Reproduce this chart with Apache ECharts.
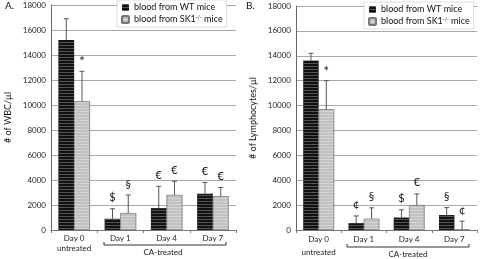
<!DOCTYPE html>
<html>
<head>
<meta charset="utf-8">
<script src="https://cdn.jsdelivr.net/npm/echarts@6/dist/echarts.min.js"></script>
<style>
  html, body { margin: 0; padding: 0; background: #fff; }
  #chart { width: 480px; height: 259px; }
</style>
</head>
<body>
<div id="chart"></div>
<script>
const categories = ['Day 0\nuntreated', 'Day 1', 'Day 4', 'Day 7']
const yTicks = [0, 2000, 4000, 6000, 8000, 10000, 12000, 14000, 16000, 18000]

// panel A - white blood cells
const wbcWT = [15200, 900, 1750, 2900]
const wbcWTErr = [1700, 800, 1750, 900]
const wbcSK = [10300, 1350, 2800, 2700]
const wbcSKErr = [2400, 1450, 1100, 700]
const wbcWTMarks = ['', '$', '€', '€']
const wbcSKMarks = ['*', '§', '€', '€']

// panel B - lymphocytes
const lymWT = [13600, 550, 1000, 1200]
const lymWTErr = [600, 580, 620, 600]
const lymSK = [9700, 900, 2000, 30]
const lymSKErr = [2300, 880, 900, 680]
const lymWTMarks = ['', '¢', '$', '§']
const lymSKMarks = ['*', '§', '€', '¢']

const WT_NAME = 'blood from WT mice'
const SK_NAME = 'blood from SK1-/- mice'
const FONT = 'Lato'
const BAR_W = 0.34

const wtStyle = {
  color: '#111',
  decal: { symbol: 'rect', symbolSize: 1, color: '#555', dashArrayX: [1, 0], dashArrayY: [1, 2], rotation: 0 }
}
const skStyle = {
  color: '#c2c2c2',
  borderColor: '#777',
  borderWidth: 0.5,
  decal: { symbol: 'rect', symbolSize: 1, color: '#d4d4d4', dashArrayX: [1, 0], dashArrayY: [1, 2], rotation: 0 }
}

function errSeries(idx, values, errs, marks, side) {
  return {
    type: 'custom',
    xAxisIndex: idx,
    yAxisIndex: idx,
    clip: false,
    silent: true,
    z: 5,
    data: values.map((v, i) => [i, v, errs[i]]),
    renderItem: function (params, api) {
      const cat = api.value(0)
      const v = api.value(1)
      const e = api.value(2)
      const band = api.size([1, 0])[0]
      const base = api.coord([cat, v])
      const top = api.coord([cat, v + e])
      const x = base[0] + side * band * BAR_W / 2
      const lineStyle = { stroke: '#555', lineWidth: 1 }
      const mark = marks[params.dataIndex]
      return {
        type: 'group',
        children: [
          { type: 'line', shape: { x1: x, y1: base[1], x2: x, y2: top[1] }, style: lineStyle },
          { type: 'line', shape: { x1: x - 2.5, y1: top[1], x2: x + 2.5, y2: top[1] }, style: lineStyle },
          {
            type: 'text',
            style: {
              x: x, y: top[1] - (mark === '*' ? 9 : 11),
              text: mark,
              align: 'center', verticalAlign: 'middle',
              fontFamily: FONT, fontSize: mark === '*' ? 13 : 11, fill: '#111'
            }
          }
        ]
      }
    }
  }
}

function makeLegend(left, top) {
  return {
    data: [WT_NAME, SK_NAME],
    left: left,
    top: top,
    orient: 'vertical',
    itemWidth: 7,
    itemHeight: 7,
    itemGap: 3,
    padding: [3, 4],
    backgroundColor: '#fff',
    borderColor: '#bbb',
    borderWidth: 0.5,
    formatter: function (name) {
      return name === SK_NAME ? 'blood from SK1{sup|-/-} mice' : name
    },
    textStyle: {
      fontFamily: FONT, fontSize: 9, color: '#111',
      rich: { sup: { fontFamily: FONT, fontSize: 5, verticalAlign: 'top', padding: [0, 0, 4, 0] } }
    }
  }
}

function makeX(idx, lh) {
  return {
    type: 'category',
    gridIndex: idx,
    data: categories,
    axisLine: { lineStyle: { color: '#777' } },
    axisTick: { show: true, length: 3, lineStyle: { color: '#777' } },
    axisLabel: { fontFamily: FONT, fontSize: 8, color: '#222', margin: 3, lineHeight: lh }
  }
}

function makeY(idx, name) {
  return {
    type: 'value',
    gridIndex: idx,
    min: yTicks[0],
    max: yTicks[yTicks.length - 1],
    interval: 2000,
    name: name,
    nameLocation: 'middle',
    nameGap: 38,
    nameTextStyle: { fontFamily: FONT, fontSize: 9, color: '#111' },
    axisLine: { show: true, lineStyle: { color: '#666' } },
    axisTick: { show: false },
    axisLabel: { fontFamily: FONT, fontSize: 8, color: '#222', margin: 5, formatter: (v) => String(v) },
    splitLine: { lineStyle: { color: '#a8a8a8', width: 1 } }
  }
}

const chart = echarts.init(document.getElementById('chart'))

const option = {
  animation: false,
  title: [
    { text: 'A.', left: 0, top: -4, textStyle: { fontFamily: FONT, fontSize: 10, fontWeight: 'normal', color: '#111' } },
    { text: 'B.', left: 241, top: -4, textStyle: { fontFamily: FONT, fontSize: 10, fontWeight: 'normal', color: '#111' } }
  ],
  legend: [makeLegend(117, 0), makeLegend(364, 2)],
  grid: [
    { left: 51, top: 5, width: 185, height: 225 },
    { left: 296, top: 6, width: 181, height: 228 }
  ],
  xAxis: [makeX(0, 10), makeX(1, 13)],
  yAxis: [makeY(0, '# of WBC/µl'), makeY(1, '# of Lymphocytes/µl')],
  series: [
    { name: WT_NAME, type: 'bar', xAxisIndex: 0, yAxisIndex: 0, data: wbcWT, barWidth: BAR_W * 100 + '%', barGap: '0%', itemStyle: wtStyle },
    { name: SK_NAME, type: 'bar', xAxisIndex: 0, yAxisIndex: 0, data: wbcSK, barWidth: BAR_W * 100 + '%', barGap: '0%', itemStyle: skStyle },
    { name: WT_NAME, type: 'bar', xAxisIndex: 1, yAxisIndex: 1, data: lymWT, barWidth: BAR_W * 100 + '%', barGap: '0%', itemStyle: wtStyle },
    { name: SK_NAME, type: 'bar', xAxisIndex: 1, yAxisIndex: 1, data: lymSK, barWidth: BAR_W * 100 + '%', barGap: '0%', itemStyle: skStyle },
    errSeries(0, wbcWT, wbcWTErr, wbcWTMarks, -1),
    errSeries(0, wbcSK, wbcSKErr, wbcSKMarks, 1),
    errSeries(1, lymWT, lymWTErr, lymWTMarks, -1),
    errSeries(1, lymSK, lymSKErr, lymSKMarks, 1)
  ],
  graphic: [
    // CA-treated brackets under days 1-7
    { type: 'polyline', shape: { points: [[104, 242], [104, 245], [226, 245], [226, 242]] }, style: { stroke: '#333', lineWidth: 1, fill: null } },
    { type: 'text', x: 163, y: 252, style: { text: 'CA-treated', align: 'center', verticalAlign: 'middle', fontFamily: FONT, fontSize: 8, fill: '#222' } },
    { type: 'polyline', shape: { points: [[347, 244], [347, 247], [469, 247], [469, 244]] }, style: { stroke: '#333', lineWidth: 1, fill: null } },
    { type: 'text', x: 408, y: 254, style: { text: 'CA-treated', align: 'center', verticalAlign: 'middle', fontFamily: FONT, fontSize: 8, fill: '#222' } }
  ]
}

chart.setOption(option)
</script>
</body>
</html>
